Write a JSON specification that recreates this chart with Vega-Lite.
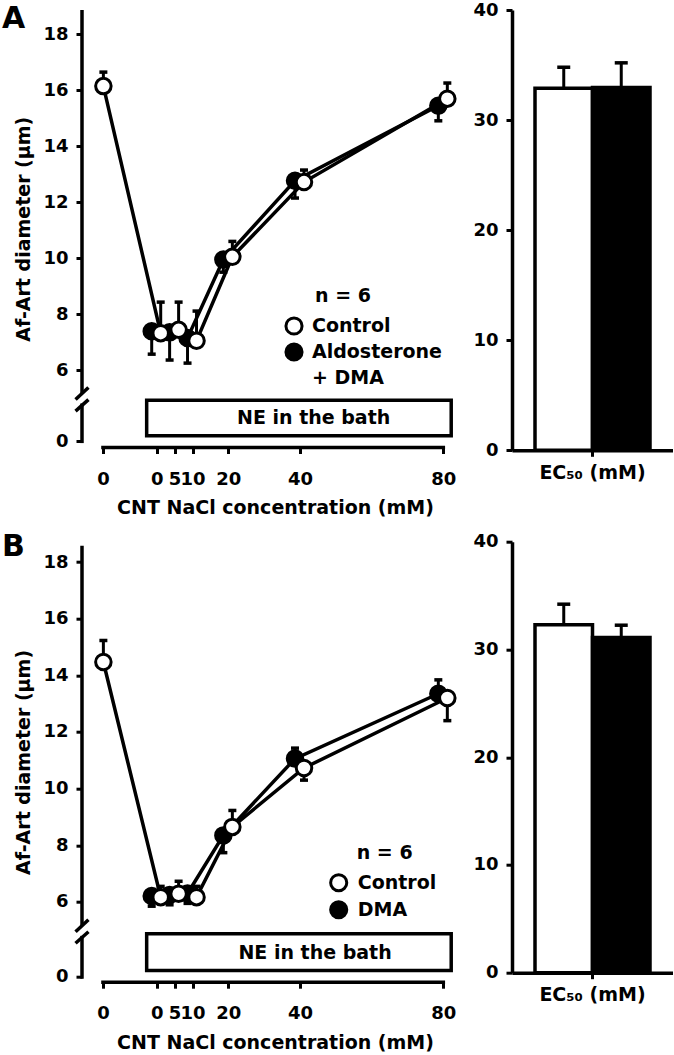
{
  "$schema": "https://vega.github.io/schema/vega-lite/v6.json",
  "background": "white",
  "padding": {"left": 2, "top": 1, "right": 0, "bottom": 0},
  "columns": 2,
  "spacing": {"row": 90.7, "column": 59},
  "bounds": "flush",
  "resolve": {"scale": {"fill": "independent", "xOffset": "independent"}, "legend": {"fill": "independent"}},
  "datasets": {
    "single": [{"n": 1}],
    "lineA": [
      {"group": "Control", "conc": -16, "diam": 16.15, "err": 16.65},
      {"group": "Control", "conc": 0, "diam": 7.32, "err": 8.43},
      {"group": "Control", "conc": 5, "diam": 7.44, "err": 8.43},
      {"group": "Control", "conc": 10, "diam": 7.05, "err": 8.11},
      {"group": "Control", "conc": 20, "diam": 10.05, "err": 10.6},
      {"group": "Control", "conc": 40, "diam": 12.72, "err": 13.15},
      {"group": "Control", "conc": 80, "diam": 15.7, "err": 16.26},
      {"group": "Aldosterone + DMA", "conc": 0, "diam": 7.39, "err": 6.57},
      {"group": "Aldosterone + DMA", "conc": 5, "diam": 7.35, "err": 6.36},
      {"group": "Aldosterone + DMA", "conc": 10, "diam": 7.15, "err": 6.25},
      {"group": "Aldosterone + DMA", "conc": 20, "diam": 9.95, "err": 9.5},
      {"group": "Aldosterone + DMA", "conc": 40, "diam": 12.77, "err": 12.15},
      {"group": "Aldosterone + DMA", "conc": 80, "diam": 15.45, "err": 14.91}
    ],
    "lineB": [
      {"group": "Control", "conc": -16, "diam": 14.47, "err": 15.23},
      {"group": "Control", "conc": 0, "diam": 6.17, "err": 6.55},
      {"group": "Control", "conc": 5, "diam": 6.29, "err": 6.73},
      {"group": "Control", "conc": 10, "diam": 6.17, "err": 6.55},
      {"group": "Control", "conc": 20, "diam": 8.65, "err": 9.23},
      {"group": "Control", "conc": 40, "diam": 10.73, "err": 10.3},
      {"group": "Control", "conc": 80, "diam": 13.2, "err": 12.4},
      {"group": "DMA", "conc": 0, "diam": 6.21, "err": 5.85},
      {"group": "DMA", "conc": 5, "diam": 6.25, "err": 5.9},
      {"group": "DMA", "conc": 10, "diam": 6.3, "err": 5.95},
      {"group": "DMA", "conc": 20, "diam": 8.35, "err": 7.74},
      {"group": "DMA", "conc": 40, "diam": 11.06, "err": 11.43},
      {"group": "DMA", "conc": 80, "diam": 13.35, "err": 13.84}
    ],
    "barA": [
      {"measure": "EC\u2085\u2080 (mM)", "group": "Control", "ec50": 32.9, "err": 34.8},
      {"measure": "EC\u2085\u2080 (mM)", "group": "Aldosterone + DMA", "ec50": 32.95, "err": 35.2}
    ],
    "barB": [
      {"measure": "EC\u2085\u2080 (mM)", "group": "Control", "ec50": 32.3, "err": 34.2},
      {"measure": "EC\u2085\u2080 (mM)", "group": "DMA", "ec50": 31.1, "err": 32.25}
    ]
  },
  "concat": [
    {
      "width": 371,
      "height": 437.5,
      "data": {"name": "lineA"},
      "layer": [
        {
          "transform": [{"filter": "datum.group != 'Control'"}],
          "mark": {"type": "line", "color": "black", "strokeWidth": 3.5, "xOffset": -5},
          "encoding": {
            "x": {"field": "conc", "type": "quantitative",
              "scale": {"domain": [-20.85, 82.7], "nice": false, "zero": false},
              "axis": {"values": [-15, 0, 5, 10, 20, 40, 80], "labelExpr": "datum.value == -15 ? '0' : datum.label", "domain": false, "tickSize": 6, "labelPadding": 17, "labelOverlap": false, "labelFlush": false, "title": "CNT NaCl concentration (mM)", "titleX": 193, "titlePadding": 10}},
            "y": {"field": "diam", "type": "quantitative",
              "scale": {"domain": [-0.22, 1.49, 4.95, 18.87], "range": [437.5, 389.6, 389.5, 0], "nice": false, "zero": false},
              "axis": {"values": [0, 6, 8, 10, 12, 14, 16, 18], "domain": false, "tickSize": 6, "labelPadding": 8, "title": "Af-Art diameter (\u03bcm)", "titlePadding": 9}}
          }
        },
        {
          "transform": [{"filter": "datum.group == 'Control'"}],
          "mark": {"type": "line", "color": "black", "strokeWidth": 3.5, "xOffset": 4},
          "encoding": {"x": {"field": "conc", "type": "quantitative"}, "y": {"field": "diam", "type": "quantitative"}}
        },
        {
          "transform": [{"filter": "datum.group != 'Control'"}],
          "mark": {"type": "rule", "color": "black", "strokeWidth": 3, "xOffset": -5},
          "encoding": {"x": {"field": "conc", "type": "quantitative"}, "y": {"field": "diam", "type": "quantitative"}, "y2": {"field": "err"}}
        },
        {
          "transform": [{"filter": "datum.group == 'Control'"}],
          "mark": {"type": "rule", "color": "black", "strokeWidth": 3, "xOffset": 4},
          "encoding": {"x": {"field": "conc", "type": "quantitative"}, "y": {"field": "diam", "type": "quantitative"}, "y2": {"field": "err"}}
        },
        {
          "transform": [{"filter": "datum.group != 'Control'"}],
          "mark": {"type": "tick", "orient": "horizontal", "color": "black", "size": 8, "thickness": 3.5, "opacity": 1, "xOffset": -5},
          "encoding": {"x": {"field": "conc", "type": "quantitative"}, "y": {"field": "err", "type": "quantitative"}}
        },
        {
          "transform": [{"filter": "datum.group == 'Control'"}],
          "mark": {"type": "tick", "orient": "horizontal", "color": "black", "size": 8, "thickness": 3.5, "opacity": 1, "xOffset": 4},
          "encoding": {"x": {"field": "conc", "type": "quantitative"}, "y": {"field": "err", "type": "quantitative"}}
        },
        {
          "transform": [{"filter": "datum.group != 'Control'"}],
          "mark": {"type": "circle", "size": 240, "stroke": "black", "strokeWidth": 3, "opacity": 1, "xOffset": -5},
          "encoding": {
            "x": {"field": "conc", "type": "quantitative"}, "y": {"field": "diam", "type": "quantitative"},
            "fill": {"field": "group", "type": "nominal",
              "scale": {"domain": ["Control", "Aldosterone + DMA"], "range": ["white", "black"]},
              "legend": {"title": "n = 6", "orient": "none", "legendX": 202, "legendY": 277, "symbolType": "circle", "symbolSize": 260, "symbolStrokeColor": "black", "symbolStrokeWidth": 3, "symbolOpacity": 1, "labelOffset": 8, "rowPadding": -4, "titlePadding": 10, "padding": 0,
                "labelExpr": "datum.label == 'Aldosterone + DMA' ? ['Aldosterone', '+ DMA'] : datum.label",
                "encode": {"title": {"update": {"dx": {"value": 31}}}, "labels": {"update": {"lineHeight": {"value": 26}}}}}}
          }
        },
        {
          "transform": [{"filter": "datum.group == 'Control'"}],
          "mark": {"type": "circle", "size": 240, "stroke": "black", "strokeWidth": 3, "opacity": 1, "xOffset": 4},
          "encoding": {"x": {"field": "conc", "type": "quantitative"}, "y": {"field": "diam", "type": "quantitative"}, "fill": {"field": "group", "type": "nominal"}}
        },
        {
          "data": {"name": "single"},
          "mark": {"type": "rule", "color": "black", "strokeWidth": 3.5},
          "encoding": {"x": {"datum": -20.85, "type": "quantitative"}, "y": {"datum": 5.16, "type": "quantitative"}, "y2": {"datum": 18.87}}
        },
        {
          "data": {"name": "single"},
          "mark": {"type": "rule", "color": "black", "strokeWidth": 3.5, "strokeCap": "square"},
          "encoding": {"x": {"datum": -20.85, "type": "quantitative"}, "y": {"datum": 0, "type": "quantitative"}, "y2": {"datum": 1.29}}
        },
        {
          "data": {"name": "single"},
          "mark": {"type": "rule", "color": "black", "strokeWidth": 3.5},
          "encoding": {"x": {"datum": -22.65, "type": "quantitative"}, "x2": {"datum": -19.05}, "y": {"datum": 4.95, "type": "quantitative"}, "y2": {"datum": 5.38}}
        },
        {
          "data": {"name": "single"},
          "mark": {"type": "rule", "color": "black", "strokeWidth": 3.5},
          "encoding": {"x": {"datum": -22.65, "type": "quantitative"}, "x2": {"datum": -19.05}, "y": {"datum": 1.08, "type": "quantitative"}, "y2": {"datum": 1.49}}
        },
        {
          "data": {"name": "single"},
          "mark": {"type": "rule", "color": "black", "strokeWidth": 3.5, "strokeCap": "square"},
          "encoding": {"x": {"datum": -15, "type": "quantitative"}, "x2": {"datum": 80}, "y": {"datum": -0.22, "type": "quantitative"}}
        },
        {
          "data": {"name": "single"},
          "mark": {"type": "rect", "fill": "white", "stroke": "black", "strokeWidth": 3.5},
          "encoding": {"x": {"datum": -2.8, "type": "quantitative"}, "x2": {"datum": 82.2}, "y": {"datum": 0.2, "type": "quantitative"}, "y2": {"datum": 1.47}}
        },
        {
          "data": {"name": "single"},
          "mark": {"type": "text", "text": "NE in the bath", "fontSize": 19, "align": "center", "baseline": "middle"},
          "encoding": {"x": {"datum": 43.8, "type": "quantitative"}, "y": {"datum": 0.83, "type": "quantitative"}}
        },
        {
          "data": {"name": "single"},
          "mark": {"type": "text", "text": "A", "fontSize": 30, "align": "left", "baseline": "top", "dx": -80, "dy": -6},
          "encoding": {"x": {"datum": -20.85, "type": "quantitative"}, "y": {"datum": 18.87, "type": "quantitative"}}
        }
      ]
    },
    {
      "width": 161,
      "height": 440.3,
      "data": {"name": "barA"},
      "layer": [
        {
          "mark": {"type": "bar", "stroke": "black", "strokeWidth": 3.5},
          "encoding": {
            "x": {"field": "measure", "type": "nominal", "scale": {"paddingInner": 0, "paddingOuter": 0.2}, "axis": {"title": null, "labelAngle": 0, "tickSize": 6, "labelPadding": 7, "labelFontSize": 19}},
            "xOffset": {"field": "group", "type": "nominal", "sort": ["Control", "Aldosterone + DMA"], "scale": {"paddingInner": 0, "paddingOuter": 0}},
            "y": {"field": "ec50", "type": "quantitative", "scale": {"domain": [0, 40], "nice": false}, "axis": {"values": [0, 10, 20, 30, 40], "title": null, "tickSize": 6, "labelPadding": 8}},
            "fill": {"field": "group", "type": "nominal", "scale": {"domain": ["Control", "Aldosterone + DMA"], "range": ["white", "black"]}, "legend": null}
          }
        },
        {
          "mark": {"type": "rule", "color": "black", "strokeWidth": 3},
          "encoding": {
            "x": {"field": "measure", "type": "nominal"},
            "xOffset": {"field": "group", "type": "nominal", "sort": ["Control", "Aldosterone + DMA"]},
            "y": {"field": "ec50", "type": "quantitative"}, "y2": {"field": "err"}
          }
        },
        {
          "mark": {"type": "tick", "orient": "horizontal", "color": "black", "size": 13, "thickness": 3.5, "opacity": 1},
          "encoding": {
            "x": {"field": "measure", "type": "nominal"},
            "xOffset": {"field": "group", "type": "nominal", "sort": ["Control", "Aldosterone + DMA"]},
            "y": {"field": "err", "type": "quantitative"}
          }
        }
      ]
    },
    {
      "width": 371,
      "height": 440.5,
      "data": {"name": "lineB"},
      "layer": [
        {
          "transform": [{"filter": "datum.group != 'Control'"}],
          "mark": {"type": "line", "color": "black", "strokeWidth": 3.5, "xOffset": -5},
          "encoding": {
            "x": {"field": "conc", "type": "quantitative",
              "scale": {"domain": [-20.85, 82.7], "nice": false, "zero": false},
              "axis": {"values": [-15, 0, 5, 10, 20, 40, 80], "labelExpr": "datum.value == -15 ? '0' : datum.label", "domain": false, "tickSize": 6, "labelPadding": 16, "labelOverlap": false, "labelFlush": false, "title": "CNT NaCl concentration (mM)", "titleX": 193, "titlePadding": 11}},
            "y": {"field": "diam", "type": "quantitative",
              "scale": {"domain": [-0.184, 1.595, 4.95, 18.717], "range": [440.5, 390.1, 390, 0], "nice": false, "zero": false},
              "axis": {"values": [0, 6, 8, 10, 12, 14, 16, 18], "domain": false, "tickSize": 6, "labelPadding": 8, "title": "Af-Art diameter (\u03bcm)", "titlePadding": 9}}
          }
        },
        {
          "transform": [{"filter": "datum.group == 'Control'"}],
          "mark": {"type": "line", "color": "black", "strokeWidth": 3.5, "xOffset": 4},
          "encoding": {"x": {"field": "conc", "type": "quantitative"}, "y": {"field": "diam", "type": "quantitative"}}
        },
        {
          "transform": [{"filter": "datum.group != 'Control'"}],
          "mark": {"type": "rule", "color": "black", "strokeWidth": 3, "xOffset": -5},
          "encoding": {"x": {"field": "conc", "type": "quantitative"}, "y": {"field": "diam", "type": "quantitative"}, "y2": {"field": "err"}}
        },
        {
          "transform": [{"filter": "datum.group == 'Control'"}],
          "mark": {"type": "rule", "color": "black", "strokeWidth": 3, "xOffset": 4},
          "encoding": {"x": {"field": "conc", "type": "quantitative"}, "y": {"field": "diam", "type": "quantitative"}, "y2": {"field": "err"}}
        },
        {
          "transform": [{"filter": "datum.group != 'Control'"}],
          "mark": {"type": "tick", "orient": "horizontal", "color": "black", "size": 8, "thickness": 3.5, "opacity": 1, "xOffset": -5},
          "encoding": {"x": {"field": "conc", "type": "quantitative"}, "y": {"field": "err", "type": "quantitative"}}
        },
        {
          "transform": [{"filter": "datum.group == 'Control'"}],
          "mark": {"type": "tick", "orient": "horizontal", "color": "black", "size": 8, "thickness": 3.5, "opacity": 1, "xOffset": 4},
          "encoding": {"x": {"field": "conc", "type": "quantitative"}, "y": {"field": "err", "type": "quantitative"}}
        },
        {
          "transform": [{"filter": "datum.group != 'Control'"}],
          "mark": {"type": "circle", "size": 240, "stroke": "black", "strokeWidth": 3, "opacity": 1, "xOffset": -5},
          "encoding": {
            "x": {"field": "conc", "type": "quantitative"}, "y": {"field": "diam", "type": "quantitative"},
            "fill": {"field": "group", "type": "nominal",
              "scale": {"domain": ["Control", "DMA"], "range": ["white", "black"]},
              "legend": {"title": "n = 6", "orient": "none", "legendX": 246.7, "legendY": 302, "symbolType": "circle", "symbolSize": 260, "symbolStrokeColor": "black", "symbolStrokeWidth": 3, "symbolOpacity": 1, "labelOffset": 9, "rowPadding": -3, "titlePadding": 10, "padding": 0,
                "encode": {"title": {"update": {"dx": {"value": 28}}}}}}
          }
        },
        {
          "transform": [{"filter": "datum.group == 'Control'"}],
          "mark": {"type": "circle", "size": 240, "stroke": "black", "strokeWidth": 3, "opacity": 1, "xOffset": 4},
          "encoding": {"x": {"field": "conc", "type": "quantitative"}, "y": {"field": "diam", "type": "quantitative"}, "fill": {"field": "group", "type": "nominal"}}
        },
        {
          "data": {"name": "single"},
          "mark": {"type": "rule", "color": "black", "strokeWidth": 3.5},
          "encoding": {"x": {"datum": -20.85, "type": "quantitative"}, "y": {"datum": 5.16, "type": "quantitative"}, "y2": {"datum": 18.575}}
        },
        {
          "data": {"name": "single"},
          "mark": {"type": "rule", "color": "black", "strokeWidth": 3.5, "strokeCap": "square"},
          "encoding": {"x": {"datum": -20.85, "type": "quantitative"}, "y": {"datum": 0, "type": "quantitative"}, "y2": {"datum": 1.39}}
        },
        {
          "data": {"name": "single"},
          "mark": {"type": "rule", "color": "black", "strokeWidth": 3.5},
          "encoding": {"x": {"datum": -22.65, "type": "quantitative"}, "x2": {"datum": -19.05}, "y": {"datum": 4.95, "type": "quantitative"}, "y2": {"datum": 5.375}}
        },
        {
          "data": {"name": "single"},
          "mark": {"type": "rule", "color": "black", "strokeWidth": 3.5},
          "encoding": {"x": {"datum": -22.65, "type": "quantitative"}, "x2": {"datum": -19.05}, "y": {"datum": 1.193, "type": "quantitative"}, "y2": {"datum": 1.595}}
        },
        {
          "data": {"name": "single"},
          "mark": {"type": "rule", "color": "black", "strokeWidth": 3.5, "strokeCap": "square"},
          "encoding": {"x": {"datum": -15, "type": "quantitative"}, "x2": {"datum": 80}, "y": {"datum": -0.184, "type": "quantitative"}}
        },
        {
          "data": {"name": "single"},
          "mark": {"type": "rect", "fill": "white", "stroke": "black", "strokeWidth": 3.5},
          "encoding": {"x": {"datum": -2.8, "type": "quantitative"}, "x2": {"datum": 82.2}, "y": {"datum": 0.233, "type": "quantitative"}, "y2": {"datum": 1.53}}
        },
        {
          "data": {"name": "single"},
          "mark": {"type": "text", "text": "NE in the bath", "fontSize": 19, "align": "center", "baseline": "middle"},
          "encoding": {"x": {"datum": 44.2, "type": "quantitative"}, "y": {"datum": 0.86, "type": "quantitative"}}
        },
        {
          "data": {"name": "single"},
          "mark": {"type": "text", "text": "B", "fontSize": 30, "align": "left", "baseline": "top", "dx": -80, "dy": -10},
          "encoding": {"x": {"datum": -20.85, "type": "quantitative"}, "y": {"datum": 18.717, "type": "quantitative"}}
        }
      ]
    },
    {
      "width": 161,
      "height": 431,
      "data": {"name": "barB"},
      "layer": [
        {
          "mark": {"type": "bar", "stroke": "black", "strokeWidth": 3.5},
          "encoding": {
            "x": {"field": "measure", "type": "nominal", "scale": {"paddingInner": 0, "paddingOuter": 0.2}, "axis": {"title": null, "labelAngle": 0, "tickSize": 6, "labelPadding": 7, "labelFontSize": 19}},
            "xOffset": {"field": "group", "type": "nominal", "sort": ["Control", "DMA"], "scale": {"paddingInner": 0, "paddingOuter": 0}},
            "y": {"field": "ec50", "type": "quantitative", "scale": {"domain": [0, 40], "nice": false}, "axis": {"values": [0, 10, 20, 30, 40], "title": null, "tickSize": 6, "labelPadding": 8}},
            "fill": {"field": "group", "type": "nominal", "scale": {"domain": ["Control", "DMA"], "range": ["white", "black"]}, "legend": null}
          }
        },
        {
          "mark": {"type": "rule", "color": "black", "strokeWidth": 3},
          "encoding": {
            "x": {"field": "measure", "type": "nominal"},
            "xOffset": {"field": "group", "type": "nominal", "sort": ["Control", "DMA"]},
            "y": {"field": "ec50", "type": "quantitative"}, "y2": {"field": "err"}
          }
        },
        {
          "mark": {"type": "tick", "orient": "horizontal", "color": "black", "size": 13, "thickness": 3.5, "opacity": 1},
          "encoding": {
            "x": {"field": "measure", "type": "nominal"},
            "xOffset": {"field": "group", "type": "nominal", "sort": ["Control", "DMA"]},
            "y": {"field": "err", "type": "quantitative"}
          }
        }
      ]
    }
  ],
  "config": {
    "view": {"stroke": null},
    "font": "DejaVu Sans",
    "axis": {
      "labelFont": "DejaVu Sans", "labelFontWeight": "bold", "labelFontSize": 18, "labelColor": "black",
      "titleFont": "DejaVu Sans", "titleFontWeight": "bold", "titleFontSize": 19, "titleColor": "black",
      "tickColor": "black", "tickWidth": 3, "domainColor": "black", "domainWidth": 3.5, "grid": false
    },
    "legend": {
      "labelFont": "DejaVu Sans", "labelFontWeight": "bold", "labelFontSize": 19, "labelColor": "black",
      "titleFont": "DejaVu Sans", "titleFontWeight": "bold", "titleFontSize": 19, "titleColor": "black",
      "labelLimit": 400, "titleLimit": 400
    },
    "text": {"font": "DejaVu Sans", "fontWeight": "bold", "color": "black"}
  }
}
